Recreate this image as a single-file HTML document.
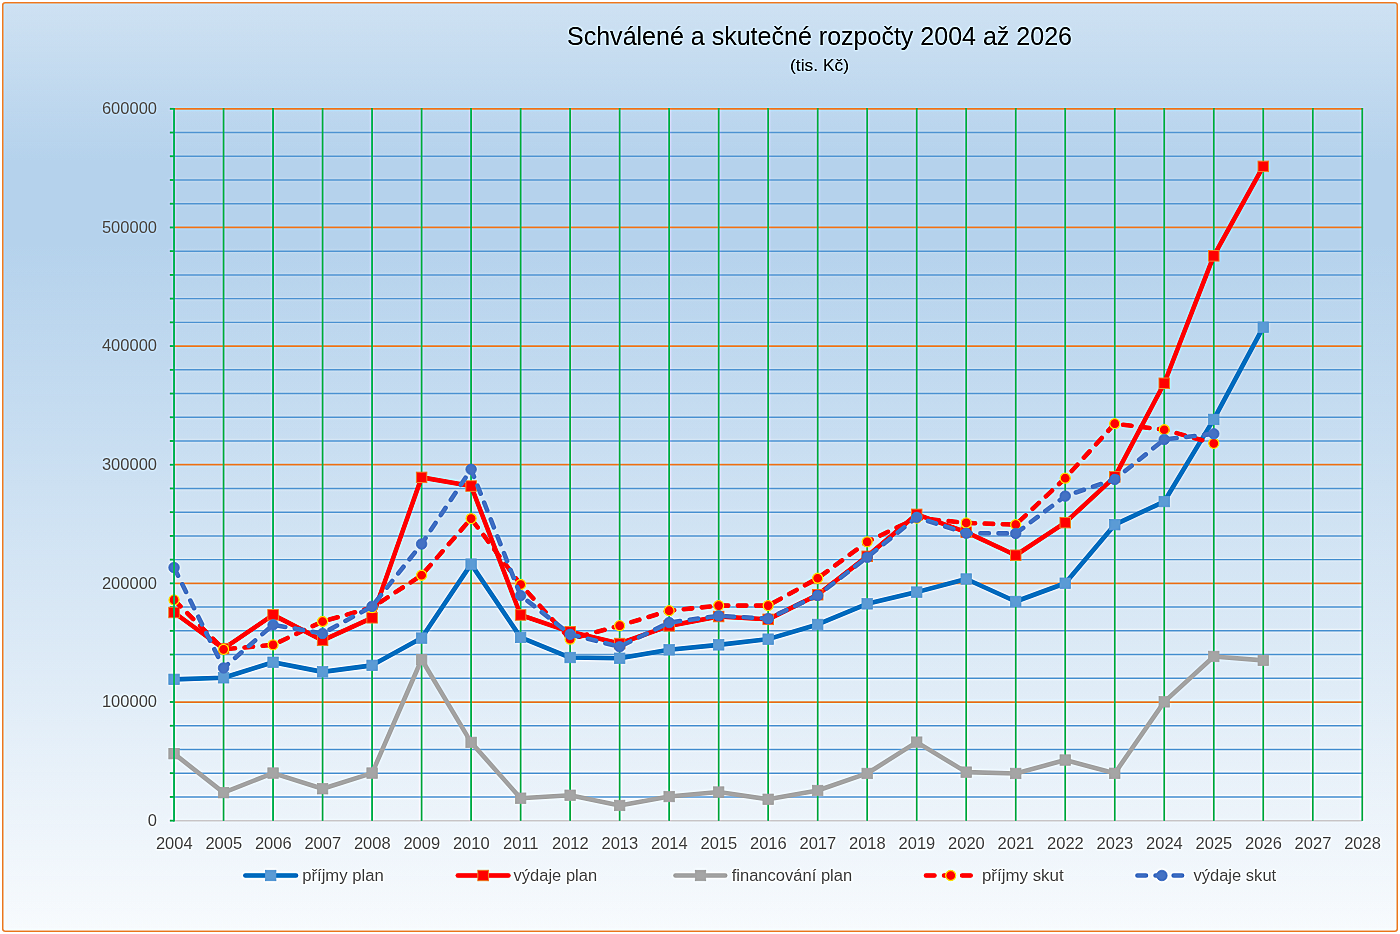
<!DOCTYPE html>
<html><head><meta charset="utf-8"><title>Schválené a skutečné rozpočty 2004 až 2026</title>
<style>
html,body{margin:0;padding:0;background:#fff;width:1400px;height:934px;overflow:hidden}
svg{display:block;will-change:transform;font-family:"Liberation Sans",sans-serif}
.gmin{stroke:#66A2D8;stroke-width:1.45}
.gmaj{stroke:#E68742;stroke-width:1.75}
.tick{stroke:#00B45C;stroke-width:1.8}
.xax{stroke:#D0CFD2;stroke-width:1.5}
.gv{stroke:#00B45C;stroke-width:1.7}
.lab{font-size:16.5px;fill:#606060}
.leg{font-size:16px;fill:#606060}
.title{font-size:25px;fill:#000}
.sub{font-size:17px;fill:#000}
.lP{fill:none;stroke:#0070C0;stroke-width:4.6;stroke-linejoin:round;stroke-linecap:round}
.lV{fill:none;stroke:#FF0000;stroke-width:4.6;stroke-linejoin:round;stroke-linecap:round}
.lF{fill:none;stroke:#A5A5A5;stroke-width:4.6;stroke-linejoin:round;stroke-linecap:round}
.lPS{fill:none;stroke:#FF0000;stroke-width:4.6;stroke-linejoin:round;stroke-linecap:round;stroke-dasharray:8.5 9.6;stroke-dashoffset:-0.55}
.lVS{fill:none;stroke:#4472C4;stroke-width:4.6;stroke-linejoin:round;stroke-linecap:round;stroke-dasharray:8.5 9.6;stroke-dashoffset:-0.55}
.mP{fill:#5B9BD5;stroke:#5B9BD5;stroke-width:0.75}
.mV{fill:#FF0000;stroke:#ED7D31;stroke-width:1}
.mF{fill:#A5A5A5;stroke:#A5A5A5;stroke-width:0.75}
.mPS{fill:#FF0000;stroke:#FFCC00;stroke-width:1.3}
.mVS{fill:#4472C4;stroke:#4472C4;stroke-width:0.75}
</style></head>
<body>
<svg width="1400" height="934" viewBox="0 0 1400 934">
<defs>
<linearGradient id="bg" x1="0" y1="0" x2="0" y2="1">
<stop offset="0" stop-color="#CEE1F2"/>
<stop offset="0.17" stop-color="#B5D2EC"/>
<stop offset="0.26" stop-color="#B5D2EC"/>
<stop offset="1" stop-color="#F7FAFD"/>
</linearGradient>
<filter id="sharp" x="0" y="0" width="1400" height="934" filterUnits="userSpaceOnUse" color-interpolation-filters="sRGB">
<feGaussianBlur in="SourceGraphic" stdDeviation="0.9" result="b"/>
<feComposite in="SourceGraphic" in2="b" operator="arithmetic" k1="0" k2="1.6" k3="-0.6" k4="0"/>
</filter>
</defs>
<g filter="url(#sharp)">
<rect x="0" y="0" width="1400" height="934" fill="#fff"/>
<rect x="2.75" y="2.75" width="1394.5" height="928.5" rx="2.5" fill="url(#bg)" stroke="#EE9550" stroke-width="1.6"/>
<text x="567" y="44.7" class="title" textLength="505" lengthAdjust="spacingAndGlyphs">Schválené a skutečné rozpočty 2004 až 2026</text>
<text x="790" y="71.4" class="sub" textLength="59" lengthAdjust="spacingAndGlyphs">(tis. Kč)</text>
<line x1="174.05" y1="796.91" x2="1363.09" y2="796.91" class="gmin"/><line x1="174.05" y1="773.18" x2="1363.09" y2="773.18" class="gmin"/><line x1="174.05" y1="749.46" x2="1363.09" y2="749.46" class="gmin"/><line x1="174.05" y1="725.73" x2="1363.09" y2="725.73" class="gmin"/><line x1="174.05" y1="678.27" x2="1363.09" y2="678.27" class="gmin"/><line x1="174.05" y1="654.54" x2="1363.09" y2="654.54" class="gmin"/><line x1="174.05" y1="630.82" x2="1363.09" y2="630.82" class="gmin"/><line x1="174.05" y1="607.09" x2="1363.09" y2="607.09" class="gmin"/><line x1="174.05" y1="559.63" x2="1363.09" y2="559.63" class="gmin"/><line x1="174.05" y1="535.90" x2="1363.09" y2="535.90" class="gmin"/><line x1="174.05" y1="512.18" x2="1363.09" y2="512.18" class="gmin"/><line x1="174.05" y1="488.45" x2="1363.09" y2="488.45" class="gmin"/><line x1="174.05" y1="440.99" x2="1363.09" y2="440.99" class="gmin"/><line x1="174.05" y1="417.26" x2="1363.09" y2="417.26" class="gmin"/><line x1="174.05" y1="393.54" x2="1363.09" y2="393.54" class="gmin"/><line x1="174.05" y1="369.81" x2="1363.09" y2="369.81" class="gmin"/><line x1="174.05" y1="322.35" x2="1363.09" y2="322.35" class="gmin"/><line x1="174.05" y1="298.62" x2="1363.09" y2="298.62" class="gmin"/><line x1="174.05" y1="274.90" x2="1363.09" y2="274.90" class="gmin"/><line x1="174.05" y1="251.17" x2="1363.09" y2="251.17" class="gmin"/><line x1="174.05" y1="203.71" x2="1363.09" y2="203.71" class="gmin"/><line x1="174.05" y1="179.98" x2="1363.09" y2="179.98" class="gmin"/><line x1="174.05" y1="156.26" x2="1363.09" y2="156.26" class="gmin"/><line x1="174.05" y1="132.53" x2="1363.09" y2="132.53" class="gmin"/><line x1="174.05" y1="702.00" x2="1363.09" y2="702.00" class="gmaj"/><line x1="174.05" y1="583.36" x2="1363.09" y2="583.36" class="gmaj"/><line x1="174.05" y1="464.72" x2="1363.09" y2="464.72" class="gmaj"/><line x1="174.05" y1="346.08" x2="1363.09" y2="346.08" class="gmaj"/><line x1="174.05" y1="227.44" x2="1363.09" y2="227.44" class="gmaj"/><line x1="174.05" y1="108.80" x2="1363.09" y2="108.80" class="gmaj"/><line x1="174.05" y1="820.64" x2="1362.29" y2="820.64" class="xax"/>
<line x1="169.85" y1="820.64" x2="174.05" y2="820.64" class="tick"/><line x1="169.85" y1="796.91" x2="174.05" y2="796.91" class="tick"/><line x1="169.85" y1="773.18" x2="174.05" y2="773.18" class="tick"/><line x1="169.85" y1="749.46" x2="174.05" y2="749.46" class="tick"/><line x1="169.85" y1="725.73" x2="174.05" y2="725.73" class="tick"/><line x1="169.85" y1="702.00" x2="174.05" y2="702.00" class="tick"/><line x1="169.85" y1="678.27" x2="174.05" y2="678.27" class="tick"/><line x1="169.85" y1="654.54" x2="174.05" y2="654.54" class="tick"/><line x1="169.85" y1="630.82" x2="174.05" y2="630.82" class="tick"/><line x1="169.85" y1="607.09" x2="174.05" y2="607.09" class="tick"/><line x1="169.85" y1="583.36" x2="174.05" y2="583.36" class="tick"/><line x1="169.85" y1="559.63" x2="174.05" y2="559.63" class="tick"/><line x1="169.85" y1="535.90" x2="174.05" y2="535.90" class="tick"/><line x1="169.85" y1="512.18" x2="174.05" y2="512.18" class="tick"/><line x1="169.85" y1="488.45" x2="174.05" y2="488.45" class="tick"/><line x1="169.85" y1="464.72" x2="174.05" y2="464.72" class="tick"/><line x1="169.85" y1="440.99" x2="174.05" y2="440.99" class="tick"/><line x1="169.85" y1="417.26" x2="174.05" y2="417.26" class="tick"/><line x1="169.85" y1="393.54" x2="174.05" y2="393.54" class="tick"/><line x1="169.85" y1="369.81" x2="174.05" y2="369.81" class="tick"/><line x1="169.85" y1="346.08" x2="174.05" y2="346.08" class="tick"/><line x1="169.85" y1="322.35" x2="174.05" y2="322.35" class="tick"/><line x1="169.85" y1="298.62" x2="174.05" y2="298.62" class="tick"/><line x1="169.85" y1="274.90" x2="174.05" y2="274.90" class="tick"/><line x1="169.85" y1="251.17" x2="174.05" y2="251.17" class="tick"/><line x1="169.85" y1="227.44" x2="174.05" y2="227.44" class="tick"/><line x1="169.85" y1="203.71" x2="174.05" y2="203.71" class="tick"/><line x1="169.85" y1="179.98" x2="174.05" y2="179.98" class="tick"/><line x1="169.85" y1="156.26" x2="174.05" y2="156.26" class="tick"/><line x1="169.85" y1="132.53" x2="174.05" y2="132.53" class="tick"/><line x1="169.85" y1="108.80" x2="174.05" y2="108.80" class="tick"/>
<line x1="223.56" y1="107.90" x2="223.56" y2="820.64" class="gv"/><line x1="273.07" y1="107.90" x2="273.07" y2="820.64" class="gv"/><line x1="322.58" y1="107.90" x2="322.58" y2="820.64" class="gv"/><line x1="372.09" y1="107.90" x2="372.09" y2="820.64" class="gv"/><line x1="421.60" y1="107.90" x2="421.60" y2="820.64" class="gv"/><line x1="471.11" y1="107.90" x2="471.11" y2="820.64" class="gv"/><line x1="520.62" y1="107.90" x2="520.62" y2="820.64" class="gv"/><line x1="570.13" y1="107.90" x2="570.13" y2="820.64" class="gv"/><line x1="619.64" y1="107.90" x2="619.64" y2="820.64" class="gv"/><line x1="669.15" y1="107.90" x2="669.15" y2="820.64" class="gv"/><line x1="718.66" y1="107.90" x2="718.66" y2="820.64" class="gv"/><line x1="768.17" y1="107.90" x2="768.17" y2="820.64" class="gv"/><line x1="817.68" y1="107.90" x2="817.68" y2="820.64" class="gv"/><line x1="867.19" y1="107.90" x2="867.19" y2="820.64" class="gv"/><line x1="916.70" y1="107.90" x2="916.70" y2="820.64" class="gv"/><line x1="966.21" y1="107.90" x2="966.21" y2="820.64" class="gv"/><line x1="1015.72" y1="107.90" x2="1015.72" y2="820.64" class="gv"/><line x1="1065.23" y1="107.90" x2="1065.23" y2="820.64" class="gv"/><line x1="1114.74" y1="107.90" x2="1114.74" y2="820.64" class="gv"/><line x1="1164.25" y1="107.90" x2="1164.25" y2="820.64" class="gv"/><line x1="1213.76" y1="107.90" x2="1213.76" y2="820.64" class="gv"/><line x1="1263.27" y1="107.90" x2="1263.27" y2="820.64" class="gv"/><line x1="1312.78" y1="107.90" x2="1312.78" y2="820.64" class="gv"/><line x1="1362.29" y1="107.90" x2="1362.29" y2="820.64" class="gv"/>
<polyline points="174.05,679.34 223.56,677.79 273.07,662.27 322.58,671.87 372.09,665.35 421.60,638.09 471.11,564.13 520.62,637.38 570.13,657.53 619.64,658.24 669.15,649.82 718.66,644.85 768.17,639.16 817.68,624.46 867.19,603.84 916.70,592.10 966.21,579.01 1015.72,601.47 1065.23,583.22 1114.74,524.67 1164.25,501.56 1213.76,419.42 1263.27,327.21" class="lP"/><rect x="168.80" y="674.09" width="10.5" height="10.5" class="mP"/><rect x="218.31" y="672.54" width="10.5" height="10.5" class="mP"/><rect x="267.82" y="657.02" width="10.5" height="10.5" class="mP"/><rect x="317.33" y="666.62" width="10.5" height="10.5" class="mP"/><rect x="366.84" y="660.10" width="10.5" height="10.5" class="mP"/><rect x="416.35" y="632.84" width="10.5" height="10.5" class="mP"/><rect x="465.86" y="558.88" width="10.5" height="10.5" class="mP"/><rect x="515.37" y="632.13" width="10.5" height="10.5" class="mP"/><rect x="564.88" y="652.28" width="10.5" height="10.5" class="mP"/><rect x="614.39" y="652.99" width="10.5" height="10.5" class="mP"/><rect x="663.90" y="644.57" width="10.5" height="10.5" class="mP"/><rect x="713.41" y="639.60" width="10.5" height="10.5" class="mP"/><rect x="762.92" y="633.91" width="10.5" height="10.5" class="mP"/><rect x="812.43" y="619.21" width="10.5" height="10.5" class="mP"/><rect x="861.94" y="598.59" width="10.5" height="10.5" class="mP"/><rect x="911.45" y="586.85" width="10.5" height="10.5" class="mP"/><rect x="960.96" y="573.76" width="10.5" height="10.5" class="mP"/><rect x="1010.47" y="596.22" width="10.5" height="10.5" class="mP"/><rect x="1059.98" y="577.97" width="10.5" height="10.5" class="mP"/><rect x="1109.49" y="519.42" width="10.5" height="10.5" class="mP"/><rect x="1159.00" y="496.31" width="10.5" height="10.5" class="mP"/><rect x="1208.51" y="414.17" width="10.5" height="10.5" class="mP"/><rect x="1258.02" y="321.96" width="10.5" height="10.5" class="mP"/><polyline points="174.05,612.49 223.56,648.64 273.07,614.86 322.58,640.34 372.09,617.82 421.60,477.38 471.11,486.03 520.62,614.98 570.13,631.81 619.64,643.54 669.15,625.88 718.66,616.52 768.17,619.36 817.68,594.71 867.19,556.31 916.70,514.36 966.21,532.13 1015.72,555.24 1065.23,522.65 1114.74,476.90 1164.25,383.27 1213.76,255.86 1263.27,166.38" class="lV"/><rect x="168.80" y="607.24" width="10.5" height="10.5" class="mV"/><rect x="218.31" y="643.39" width="10.5" height="10.5" class="mV"/><rect x="267.82" y="609.61" width="10.5" height="10.5" class="mV"/><rect x="317.33" y="635.09" width="10.5" height="10.5" class="mV"/><rect x="366.84" y="612.57" width="10.5" height="10.5" class="mV"/><rect x="416.35" y="472.13" width="10.5" height="10.5" class="mV"/><rect x="465.86" y="480.78" width="10.5" height="10.5" class="mV"/><rect x="515.37" y="609.73" width="10.5" height="10.5" class="mV"/><rect x="564.88" y="626.56" width="10.5" height="10.5" class="mV"/><rect x="614.39" y="638.29" width="10.5" height="10.5" class="mV"/><rect x="663.90" y="620.63" width="10.5" height="10.5" class="mV"/><rect x="713.41" y="611.27" width="10.5" height="10.5" class="mV"/><rect x="762.92" y="614.11" width="10.5" height="10.5" class="mV"/><rect x="812.43" y="589.46" width="10.5" height="10.5" class="mV"/><rect x="861.94" y="551.06" width="10.5" height="10.5" class="mV"/><rect x="911.45" y="509.11" width="10.5" height="10.5" class="mV"/><rect x="960.96" y="526.88" width="10.5" height="10.5" class="mV"/><rect x="1010.47" y="549.99" width="10.5" height="10.5" class="mV"/><rect x="1059.98" y="517.40" width="10.5" height="10.5" class="mV"/><rect x="1109.49" y="471.65" width="10.5" height="10.5" class="mV"/><rect x="1159.00" y="378.02" width="10.5" height="10.5" class="mV"/><rect x="1208.51" y="250.61" width="10.5" height="10.5" class="mV"/><rect x="1258.02" y="161.13" width="10.5" height="10.5" class="mV"/><polyline points="174.05,753.65 223.56,792.64 273.07,773.08 322.58,788.73 372.09,773.08 421.60,659.54 471.11,742.39 520.62,798.21 570.13,795.25 619.64,805.44 669.15,796.55 718.66,792.05 768.17,799.28 817.68,790.51 867.19,773.44 916.70,742.15 966.21,772.14 1015.72,773.44 1065.23,760.05 1114.74,773.32 1164.25,701.85 1213.76,656.46 1263.27,660.37" class="lF"/><rect x="168.80" y="748.40" width="10.5" height="10.5" class="mF"/><rect x="218.31" y="787.39" width="10.5" height="10.5" class="mF"/><rect x="267.82" y="767.83" width="10.5" height="10.5" class="mF"/><rect x="317.33" y="783.48" width="10.5" height="10.5" class="mF"/><rect x="366.84" y="767.83" width="10.5" height="10.5" class="mF"/><rect x="416.35" y="654.29" width="10.5" height="10.5" class="mF"/><rect x="465.86" y="737.14" width="10.5" height="10.5" class="mF"/><rect x="515.37" y="792.96" width="10.5" height="10.5" class="mF"/><rect x="564.88" y="790.00" width="10.5" height="10.5" class="mF"/><rect x="614.39" y="800.19" width="10.5" height="10.5" class="mF"/><rect x="663.90" y="791.30" width="10.5" height="10.5" class="mF"/><rect x="713.41" y="786.80" width="10.5" height="10.5" class="mF"/><rect x="762.92" y="794.03" width="10.5" height="10.5" class="mF"/><rect x="812.43" y="785.26" width="10.5" height="10.5" class="mF"/><rect x="861.94" y="768.19" width="10.5" height="10.5" class="mF"/><rect x="911.45" y="736.90" width="10.5" height="10.5" class="mF"/><rect x="960.96" y="766.89" width="10.5" height="10.5" class="mF"/><rect x="1010.47" y="768.19" width="10.5" height="10.5" class="mF"/><rect x="1059.98" y="754.80" width="10.5" height="10.5" class="mF"/><rect x="1109.49" y="768.07" width="10.5" height="10.5" class="mF"/><rect x="1159.00" y="696.60" width="10.5" height="10.5" class="mF"/><rect x="1208.51" y="651.21" width="10.5" height="10.5" class="mF"/><rect x="1258.02" y="655.12" width="10.5" height="10.5" class="mF"/><polyline points="174.05,599.93 223.56,649.35 273.07,644.85 322.58,621.50 372.09,607.51 421.60,575.27 471.11,518.62 520.62,584.52 570.13,639.16 619.64,625.65 669.15,610.71 718.66,605.62 768.17,605.62 817.68,578.24 867.19,541.85 916.70,518.03 966.21,522.89 1015.72,524.67 1065.23,478.21 1114.74,423.69 1164.25,429.73 1213.76,443.36" class="lPS"/><circle cx="174.05" cy="599.93" r="5.0" class="mPS"/><circle cx="223.56" cy="649.35" r="5.0" class="mPS"/><circle cx="273.07" cy="644.85" r="5.0" class="mPS"/><circle cx="322.58" cy="621.50" r="5.0" class="mPS"/><circle cx="372.09" cy="607.51" r="5.0" class="mPS"/><circle cx="421.60" cy="575.27" r="5.0" class="mPS"/><circle cx="471.11" cy="518.62" r="5.0" class="mPS"/><circle cx="520.62" cy="584.52" r="5.0" class="mPS"/><circle cx="570.13" cy="639.16" r="5.0" class="mPS"/><circle cx="619.64" cy="625.65" r="5.0" class="mPS"/><circle cx="669.15" cy="610.71" r="5.0" class="mPS"/><circle cx="718.66" cy="605.62" r="5.0" class="mPS"/><circle cx="768.17" cy="605.62" r="5.0" class="mPS"/><circle cx="817.68" cy="578.24" r="5.0" class="mPS"/><circle cx="867.19" cy="541.85" r="5.0" class="mPS"/><circle cx="916.70" cy="518.03" r="5.0" class="mPS"/><circle cx="966.21" cy="522.89" r="5.0" class="mPS"/><circle cx="1015.72" cy="524.67" r="5.0" class="mPS"/><circle cx="1065.23" cy="478.21" r="5.0" class="mPS"/><circle cx="1114.74" cy="423.69" r="5.0" class="mPS"/><circle cx="1164.25" cy="429.73" r="5.0" class="mPS"/><circle cx="1213.76" cy="443.36" r="5.0" class="mPS"/><polyline points="174.05,567.57 223.56,667.96 273.07,624.82 322.58,633.47 372.09,606.33 421.60,543.99 471.11,469.32 520.62,595.54 570.13,634.30 619.64,646.74 669.15,622.56 718.66,615.81 768.17,618.65 817.68,595.42 867.19,557.26 916.70,517.32 966.21,533.20 1015.72,533.44 1065.23,496.10 1114.74,479.39 1164.25,439.45 1213.76,433.76" class="lVS"/><circle cx="174.05" cy="567.57" r="5.3" class="mVS"/><circle cx="223.56" cy="667.96" r="5.3" class="mVS"/><circle cx="273.07" cy="624.82" r="5.3" class="mVS"/><circle cx="322.58" cy="633.47" r="5.3" class="mVS"/><circle cx="372.09" cy="606.33" r="5.3" class="mVS"/><circle cx="421.60" cy="543.99" r="5.3" class="mVS"/><circle cx="471.11" cy="469.32" r="5.3" class="mVS"/><circle cx="520.62" cy="595.54" r="5.3" class="mVS"/><circle cx="570.13" cy="634.30" r="5.3" class="mVS"/><circle cx="619.64" cy="646.74" r="5.3" class="mVS"/><circle cx="669.15" cy="622.56" r="5.3" class="mVS"/><circle cx="718.66" cy="615.81" r="5.3" class="mVS"/><circle cx="768.17" cy="618.65" r="5.3" class="mVS"/><circle cx="817.68" cy="595.42" r="5.3" class="mVS"/><circle cx="867.19" cy="557.26" r="5.3" class="mVS"/><circle cx="916.70" cy="517.32" r="5.3" class="mVS"/><circle cx="966.21" cy="533.20" r="5.3" class="mVS"/><circle cx="1015.72" cy="533.44" r="5.3" class="mVS"/><circle cx="1065.23" cy="496.10" r="5.3" class="mVS"/><circle cx="1114.74" cy="479.39" r="5.3" class="mVS"/><circle cx="1164.25" cy="439.45" r="5.3" class="mVS"/><circle cx="1213.76" cy="433.76" r="5.3" class="mVS"/>
<line x1="174.05" y1="107.90" x2="174.05" y2="821.44" class="gv"/>
<text x="157" y="825.84" class="lab" text-anchor="end">0</text><text x="157" y="707.20" class="lab" text-anchor="end">100000</text><text x="157" y="588.56" class="lab" text-anchor="end">200000</text><text x="157" y="469.92" class="lab" text-anchor="end">300000</text><text x="157" y="351.28" class="lab" text-anchor="end">400000</text><text x="157" y="232.64" class="lab" text-anchor="end">500000</text><text x="157" y="114.00" class="lab" text-anchor="end">600000</text>
<text x="174.25" y="849.1" class="lab" text-anchor="middle">2004</text><text x="223.76" y="849.1" class="lab" text-anchor="middle">2005</text><text x="273.27" y="849.1" class="lab" text-anchor="middle">2006</text><text x="322.78" y="849.1" class="lab" text-anchor="middle">2007</text><text x="372.29" y="849.1" class="lab" text-anchor="middle">2008</text><text x="421.80" y="849.1" class="lab" text-anchor="middle">2009</text><text x="471.31" y="849.1" class="lab" text-anchor="middle">2010</text><text x="520.82" y="849.1" class="lab" text-anchor="middle">2011</text><text x="570.33" y="849.1" class="lab" text-anchor="middle">2012</text><text x="619.84" y="849.1" class="lab" text-anchor="middle">2013</text><text x="669.35" y="849.1" class="lab" text-anchor="middle">2014</text><text x="718.86" y="849.1" class="lab" text-anchor="middle">2015</text><text x="768.37" y="849.1" class="lab" text-anchor="middle">2016</text><text x="817.88" y="849.1" class="lab" text-anchor="middle">2017</text><text x="867.39" y="849.1" class="lab" text-anchor="middle">2018</text><text x="916.90" y="849.1" class="lab" text-anchor="middle">2019</text><text x="966.41" y="849.1" class="lab" text-anchor="middle">2020</text><text x="1015.92" y="849.1" class="lab" text-anchor="middle">2021</text><text x="1065.43" y="849.1" class="lab" text-anchor="middle">2022</text><text x="1114.94" y="849.1" class="lab" text-anchor="middle">2023</text><text x="1164.45" y="849.1" class="lab" text-anchor="middle">2024</text><text x="1213.96" y="849.1" class="lab" text-anchor="middle">2025</text><text x="1263.47" y="849.1" class="lab" text-anchor="middle">2026</text><text x="1312.98" y="849.1" class="lab" text-anchor="middle">2027</text><text x="1362.49" y="849.1" class="lab" text-anchor="middle">2028</text>
<line x1="245.4" y1="875.5" x2="296" y2="875.5" class="lP"/><rect x="265.45" y="870.25" width="10.5" height="10.5" class="mP"/><text x="302.2" y="880.6" class="leg" textLength="81.5" lengthAdjust="spacingAndGlyphs">příjmy plan</text><line x1="457.8" y1="875.5" x2="508.4" y2="875.5" class="lV"/><rect x="477.85" y="870.25" width="10.5" height="10.5" class="mV"/><text x="513.6" y="880.6" class="leg" textLength="83.5" lengthAdjust="spacingAndGlyphs">výdaje plan</text><line x1="675.5" y1="875.5" x2="725.2" y2="875.5" class="lF"/><rect x="695.25" y="870.25" width="10.5" height="10.5" class="mF"/><text x="731.7" y="880.6" class="leg" textLength="120.5" lengthAdjust="spacingAndGlyphs">financování plan</text><line x1="925.4" y1="875.5" x2="970.8" y2="875.5" class="lPS"/><circle cx="950.70" cy="875.50" r="5.0" class="mPS"/><text x="981.9" y="880.6" class="leg" textLength="81.8" lengthAdjust="spacingAndGlyphs">příjmy skut</text><line x1="1136.9" y1="875.5" x2="1182.1" y2="875.5" class="lVS"/><circle cx="1161.90" cy="875.50" r="5.3" class="mVS"/><text x="1193.4" y="880.6" class="leg" textLength="82.8" lengthAdjust="spacingAndGlyphs">výdaje skut</text>
</g>
</svg>
</body></html>
